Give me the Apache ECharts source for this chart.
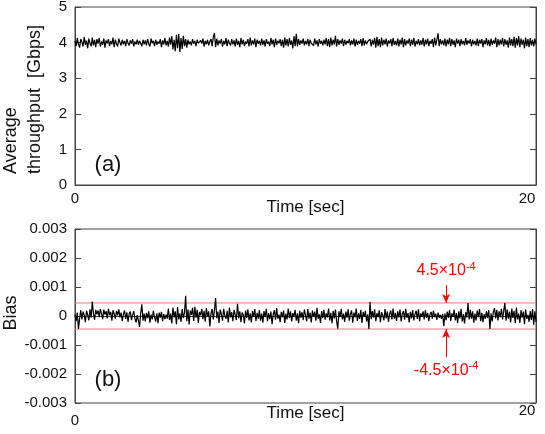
<!DOCTYPE html>
<html>
<head>
<meta charset="UTF-8">
<title></title>
<style>
	html, body { margin: 0; padding: 0; background: #fff; }
	#main { width: 545px; height: 434px; }
</style>
</head>
<body>
<div id="main"></div>
<script src="https://cdn.jsdelivr.net/npm/echarts@6/dist/echarts.min.js"></script>
<script>
	// sample spacing [sec]
	var timeStep = 0.05;
	// (a) average throughput [Gbps]
	var throughput = [
		4.05,3.90,4.13,3.95,3.86,4.10,4.02,3.89,4.16,3.94,4.06,3.84,4.11,3.98,3.90,4.14,3.92,4.08,3.87,4.10,
		3.97,4.13,3.89,4.03,3.94,4.11,3.86,4.06,3.98,4.10,3.90,4.05,3.95,4.14,3.87,4.08,3.97,3.89,4.11,4.00,
		3.92,4.08,3.95,4.05,3.90,4.10,3.98,3.92,4.06,3.97,4.10,3.89,4.03,3.95,4.08,3.94,4.05,3.98,3.90,4.08,
		3.95,4.06,3.92,4.10,3.97,3.89,4.11,3.98,4.05,3.90,4.08,3.94,4.03,3.97,4.10,3.87,4.06,3.95,4.13,3.92,
		4.05,3.89,4.14,3.94,4.18,3.81,4.08,3.76,4.22,3.84,4.24,3.74,4.13,3.82,4.19,3.90,4.10,3.86,4.08,3.95,
		4.03,3.92,4.10,3.97,4.05,3.90,4.08,3.98,3.94,4.06,3.97,4.11,3.89,4.05,3.95,4.08,3.92,4.03,4.10,3.90,
		4.16,4.27,3.87,4.11,3.92,4.06,3.97,4.10,3.89,4.05,3.95,4.13,3.90,4.08,3.98,3.92,4.10,3.95,4.06,3.89,
		4.11,3.94,4.05,3.87,4.13,3.95,4.08,3.90,4.03,3.97,4.10,3.89,4.14,3.92,4.06,3.95,4.11,3.87,4.08,3.97,
		4.05,3.92,4.11,3.94,4.06,3.89,4.10,3.97,4.03,3.90,4.13,3.95,4.08,3.87,4.11,3.94,4.05,3.98,4.10,3.90,
		4.08,3.86,4.14,3.92,4.10,3.89,4.13,3.94,4.06,3.84,4.18,3.90,4.25,3.89,4.10,3.94,4.06,3.97,4.11,3.92,
		4.05,3.95,4.10,3.90,4.08,3.98,4.03,3.92,4.11,3.95,4.06,3.89,4.10,3.97,4.05,3.92,4.08,3.95,4.13,3.90,
		4.10,3.87,4.14,3.92,4.08,3.95,4.19,3.89,4.10,3.94,4.06,3.97,4.11,3.90,4.08,3.94,4.05,3.98,4.10,3.92,
		4.06,3.95,4.11,3.89,4.08,3.94,4.05,3.97,4.10,3.90,4.13,3.92,4.06,3.95,4.03,3.98,4.10,3.89,4.08,3.94,
		4.13,3.86,4.16,3.90,4.10,3.87,4.14,3.92,4.08,3.95,4.11,3.89,4.06,3.97,4.10,3.90,4.13,3.94,4.05,3.92,
		4.11,3.89,4.08,3.95,4.14,3.87,4.10,3.92,4.06,3.97,4.11,3.90,4.08,3.94,4.13,3.89,4.05,3.95,4.10,3.92,
		4.06,3.94,4.13,3.89,4.08,3.95,4.11,3.90,4.05,3.97,4.10,3.87,4.14,3.92,4.08,4.26,3.90,4.10,3.95,4.06,
		3.92,4.11,3.89,4.08,3.95,4.13,3.90,4.10,3.94,4.06,3.87,4.11,3.97,4.08,3.90,4.10,3.95,4.05,3.92,4.13,
		3.94,4.06,3.97,4.10,3.89,4.08,3.95,4.05,3.92,4.11,3.90,4.08,3.97,4.10,3.87,4.06,3.95,4.13,3.92,4.08,
		3.89,4.11,3.94,4.06,3.97,4.14,3.87,4.10,3.92,4.08,3.95,4.13,3.89,4.10,3.94,4.06,3.86,4.14,3.92,4.10,
		3.90,4.16,3.86,4.13,3.92,4.18,3.87,4.11,3.94,4.08,3.84,4.14,3.90,4.10,3.87,4.13,3.92,4.08,3.89,4.11,
		3.95
	];
	// (b) bias, in units of 1e-4
	var biasE4 = [
		0.5,-1.8,1.2,-4.5,-0.8,2.0,-1.2,1.5,0.3,-2.1,1.8,0.4,-1.5,2.3,-0.6,5.0,0.9,-1.3,2.1,0.6,
		1.9,-0.4,2.4,0.8,-1.1,2.2,0.5,1.7,-0.8,2.5,0.3,1.4,-1.6,2.0,0.7,-0.9,1.8,0.2,2.3,-0.5,
		1.2,-1.8,0.6,1.9,-1.0,1.3,-2.0,0.8,1.5,-1.4,0.4,1.7,-0.9,-2.2,0.3,-1.5,-3.8,1.0,4.0,-1.6,
		0.8,-1.9,1.1,-0.7,1.6,-2.3,0.5,-1.2,1.8,-0.4,-1.9,0.9,-2.5,1.2,-0.6,1.4,-1.8,0.7,-1.1,0.5,
		-0.9,2.6,-1.4,0.8,-2.6,2.9,-0.5,1.6,-2.8,3.1,-1.2,0.9,-2.0,2.4,-0.7,1.1,7.0,-1.8,2.2,-2.9,
		1.9,0.4,2.8,-1.7,3.2,-0.6,2.1,-2.4,1.4,0.2,2.5,-1.1,1.8,-2.0,2.7,-0.3,1.6,-3.6,0.9,2.4,
		-1.2,2.0,6.2,-0.8,1.5,-2.4,2.2,0.6,-1.6,2.5,0.1,-1.0,1.8,-2.2,2.9,-0.5,1.3,-1.8,2.1,0.4,
		-1.4,4.2,-0.8,1.6,-2.1,1.2,0.5,-2.6,1.9,-0.7,2.3,-1.5,0.9,-2.2,1.7,-0.3,2.4,-1.8,1.1,-0.9,
		2.0,-1.6,0.8,-2.3,1.7,-0.4,2.5,-1.8,1.0,-1.1,1.5,-2.8,0.6,2.0,-1.3,2.7,-0.9,0.5,-2.1,1.4,
		-0.5,1.9,-2.4,0.8,-1.2,2.6,-0.7,1.6,-1.9,1.0,-0.2,2.1,-1.6,0.9,-2.5,1.8,-0.6,1.3,-1.4,2.2,
		0.4,-1.8,2.4,-0.9,1.2,-2.2,1.9,-0.3,1.5,-1.6,2.8,-1.0,0.6,-2.4,1.7,-0.7,2.1,-1.3,0.9,-0.5,
		2.6,-1.5,1.1,-2.5,1.8,-0.8,2.2,-1.9,-4.4,1.6,-0.4,2.5,-1.2,0.8,-2.0,1.5,-0.6,2.3,-1.6,0.7,
		1.9,-2.3,1.2,-0.5,2.6,-1.7,0.9,-1.0,2.1,-2.4,1.4,-0.3,1.8,-1.9,0.6,-4.5,4.8,-1.1,1.7,-0.6,
		2.3,-1.8,1.0,-0.4,2.0,-2.1,1.3,0.2,-1.5,2.4,-0.8,1.5,-2.0,0.7,1.9,-1.2,2.6,-0.9,1.1,-1.7,
		1.6,-0.5,2.2,-1.9,0.8,1.7,-1.3,2.5,-0.6,1.0,-2.2,1.4,-0.8,2.0,-1.5,0.6,1.8,-1.0,2.3,-1.8,
		0.9,-0.3,1.6,-1.2,2.0,-0.7,1.1,-1.8,0.5,1.4,-0.9,1.9,-0.4,0.8,-1.3,1.2,-0.6,0.4,-1.0,0.7,
		-3.5,0.8,-1.4,1.5,-0.6,2.0,-1.7,0.9,-0.3,2.2,-1.5,1.0,-2.4,1.6,-0.8,2.5,-1.9,0.6,-2.6,1.3,
		-0.5,4.5,-1.2,2.1,-0.9,1.6,-2.3,0.8,-1.5,1.9,-0.4,2.4,-1.8,1.1,-2.1,0.6,-1.0,1.7,-0.7,2.0,
		-4.5,0.9,-1.9,1.4,2.7,-0.8,2.1,-1.5,1.6,-0.4,2.5,-1.2,1.8,4.5,-1.6,2.3,-0.9,1.5,-2.2,2.6,
		-0.7,1.8,-2.5,2.9,-1.2,0.8,-2.4,2.0,-0.6,1.5,-2.8,2.2,-1.0,0.4,-2.0,1.7,-1.4,2.4,-3.0,1.6,
		-2.0
	];
	// ±bias limit and the time where its arrows sit
	var biasLimit = 4.5e-4;
	var limitEnds = [0, 20];
	var arrowX = 16.1;

	var thrData = throughput.map(function(v, i) { return [i * timeStep, v]; });
	var biasData = biasE4.map(function(v, i) { return [i * timeStep, v * 1e-4]; });
	var upperData = limitEnds.map(function(t) { return [t, biasLimit]; });
	var lowerData = limitEnds.map(function(t) { return [t, -biasLimit]; });

	var font = 'Liberation Sans, Arial, sans-serif';
	var axisColor = '#444';
	var red = '#ff0000';
	var limitColor = '#f27878';

	function yAxisCfg(grid, min, max, step, right, fmt) {
		return {
			type: 'value',
			gridIndex: grid,
			position: right ? 'right' : 'left',
			min: min, max: max, interval: step,
			axisLine: { show: true, lineStyle: { color: axisColor } },
			axisTick: { show: true, inside: true, length: 6, lineStyle: { color: axisColor } },
			axisLabel: { show: !right, margin: 8, fontSize: 15, color: '#111', fontFamily: font, formatter: fmt },
			splitLine: { show: false }
		};
	}

	function xAxisCfg(grid, margin, nameGap, zeroPad) {
		return {
			type: 'value',
			gridIndex: grid,
			min: 0, max: 20, interval: 20,
			axisLine: { show: true, lineStyle: { color: axisColor } },
			axisTick: { show: false },
			splitLine: { show: false },
			axisLabel: {
				margin: margin, fontSize: 15, color: '#111', fontFamily: font,
				formatter: function(v) { return v === 0 ? '{z|0}' : '{t|20}'; },
				rich: {
					z: { fontSize: 15, color: '#111', fontFamily: font, padding: [zeroPad, 0, 0, 0] },
					t: { fontSize: 15, color: '#111', fontFamily: font, padding: [0, 18, 0, 0] }
				}
			},
			name: 'Time [sec]',
			nameLocation: 'middle',
			nameGap: nameGap,
			nameMoveOverlap: false,
			nameTextStyle: { fontSize: 17, color: '#111', fontFamily: font }
		};
	}

	function arrowLabel(text) {
		return {
			show: true, position: 'start', distance: 4, color: red, fontSize: 16, fontFamily: font,
			formatter: text,
			rich: { s: { fontSize: 11, color: red, fontFamily: font, padding: [0, 0, 9, 0] } }
		};
	}

	var myChart = echarts.init(document.getElementById('main'));
	var option = {
		animation: false,
		backgroundColor: '#fff',
		grid: [
			{ left: 75, right: 9, top: 7, height: 178, show: true, borderColor: axisColor, borderWidth: 1, outerBoundsMode: 'none' },
			{ left: 75, right: 9, top: 229, height: 174, show: true, borderColor: axisColor, borderWidth: 1, outerBoundsMode: 'none' }
		],
		xAxis: [
			xAxisCfg(0, 6, 14, 0),
			xAxisCfg(1, 0, 2, 10)
		],
		yAxis: [
			yAxisCfg(0, 0, 5, 1, false),
			yAxisCfg(0, 0, 5, 1, true),
			yAxisCfg(1, -0.003, 0.003, 0.001, false, function(v) {
				return Math.abs(v) < 1e-9 ? '0' : v.toFixed(3);
			}),
			yAxisCfg(1, -0.003, 0.003, 0.001, true)
		],
		graphic: [
			{
				type: 'text', x: -1, y: 174, rotation: Math.PI / 2,
				style: { text: 'Average\nthroughput  [Gbps]', fontSize: 18, lineHeight: 24, fontFamily: font, fill: '#111', align: 'left', verticalAlign: 'top' }
			},
			{
				type: 'text', x: 2, y: 313, rotation: Math.PI / 2,
				style: { text: 'Bias', fontSize: 18, fontFamily: font, fill: '#111', align: 'center', verticalAlign: 'top' }
			},
			{
				type: 'text', x: 108, y: 165,
				style: { text: '(a)', fontSize: 22, fontFamily: font, fill: '#111', align: 'center', verticalAlign: 'middle' }
			},
			{
				type: 'text', x: 108, y: 380,
				style: { text: '(b)', fontSize: 22, fontFamily: font, fill: '#111', align: 'center', verticalAlign: 'middle' }
			}
		],
		series: [
			{
				type: 'line',
				xAxisIndex: 0, yAxisIndex: 0,
				data: thrData,
				showSymbol: false,
				lineStyle: { color: '#000', width: 1.2 }
			},
			{
				type: 'line',
				xAxisIndex: 1, yAxisIndex: 2,
				data: upperData,
				showSymbol: false,
				silent: true,
				lineStyle: { color: limitColor, width: 1 }
			},
			{
				type: 'line',
				xAxisIndex: 1, yAxisIndex: 2,
				data: lowerData,
				showSymbol: false,
				silent: true,
				lineStyle: { color: limitColor, width: 1 }
			},
			{
				type: 'line',
				xAxisIndex: 1, yAxisIndex: 2,
				data: biasData,
				showSymbol: false,
				z: 3,
				lineStyle: { color: '#000', width: 1.2 },
				markLine: {
					silent: true,
					animation: false,
					lineStyle: { color: red, type: 'solid', width: 1 },
					label: { show: false },
					data: [
						[
							{ coord: [arrowX, 0.00107], symbol: 'none', label: arrowLabel('4.5×10{s|-4}') },
							{ coord: [arrowX, biasLimit], symbol: 'arrow', symbolSize: [6, 9] }
						],
						[
							{ coord: [arrowX, -0.00141], symbol: 'none', label: arrowLabel('-4.5×10{s|-4}') },
							{ coord: [arrowX, -biasLimit], symbol: 'arrow', symbolSize: [6, 9] }
						]
					]
				}
			}
		]
	};
	myChart.setOption(option);
</script>
</body>
</html>
